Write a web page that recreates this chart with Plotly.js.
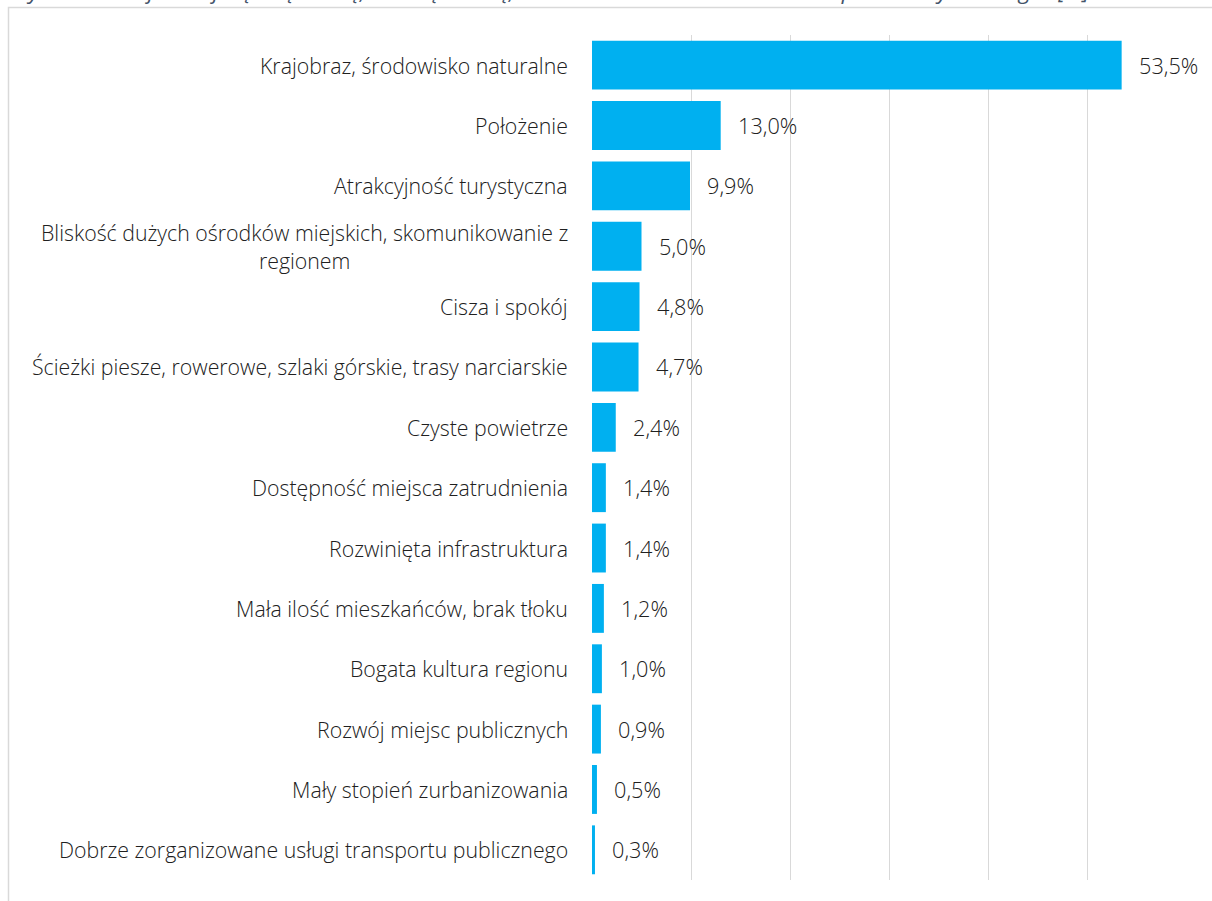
<!DOCTYPE html>
<html>
<head>
<meta charset="utf-8">
<script src="https://cdn.plot.ly/plotly-3.0.1.min.js"></script>
<style>html,body{margin:0;padding:0;background:#fff;}#chart{width:1212px;height:901px;}</style>
</head>
<body>
<div id="chart"></div>
<script>
const chartTitle = "Wykres 14 Co jest największą zaletą, mocną stroną, atutem zamieszkania na terenie powiatu żywieckiego? [%]";
const categories = [
  "Krajobraz, środowisko naturalne",
  "Położenie",
  "Atrakcyjność turystyczna",
  "Bliskość dużych ośrodków miejskich, skomunikowanie z<br>regionem",
  "Cisza i spokój",
  "Ścieżki piesze, rowerowe, szlaki górskie, trasy narciarskie",
  "Czyste powietrze",
  "Dostępność miejsca zatrudnienia",
  "Rozwinięta infrastruktura",
  "Mała ilość mieszkańców, brak tłoku",
  "Bogata kultura regionu",
  "Rozwój miejsc publicznych",
  "Mały stopień zurbanizowania",
  "Dobrze zorganizowane usługi transportu publicznego"
];
const values = [53.5, 13.0, 9.9, 5.0, 4.8, 4.7, 2.4, 1.4, 1.4, 1.2, 1.0, 0.9, 0.5, 0.3];
const valueLabels = values.map(v => v.toFixed(1).replace('.', ',') + '%');

const FONT = '"Open Sans", "DejaVu Sans", sans-serif';
const TXT = '#202020';

const trace = {
  type: 'bar',
  orientation: 'h',
  x: values,
  y: categories.map((c, i) => i),
  marker: {color: '#00B0F0'},
  width: 0.81,
  hoverinfo: 'skip'
};

const annotations = [];
categories.forEach((c, i) => {
  annotations.push({
    xref: 'paper', yref: 'y', x: 0, y: i,
    xanchor: 'right', yanchor: 'middle', xshift: -22,
    text: c, showarrow: false, align: 'center',
    font: {family: FONT, size: 21.3, color: TXT, weight: 300}
  });
  annotations.push({
    xref: 'x', yref: 'y', x: values[i], y: i,
    xanchor: 'left', yanchor: 'middle', xshift: 15,
    text: valueLabels[i], showarrow: false,
    font: {family: FONT, size: 21.7, color: TXT, weight: 300}
  });
});
annotations.push({
  xref: 'paper', yref: 'paper', x: (8 - 592) / 594, y: 1 + 44 / 845,
  xanchor: 'left', yanchor: 'middle',
  text: '<i>' + chartTitle + '</i>', showarrow: false,
  font: {family: FONT, size: 22.4, color: '#44546A'}
});

const layout = {
  width: 1212, height: 901,
  margin: {l: 592, r: 26, t: 35, b: 21, pad: 0},
  paper_bgcolor: '#ffffff', plot_bgcolor: '#ffffff',
  showlegend: false,
  xaxis: {
    range: [0, 60], dtick: 10, tick0: 0,
    showgrid: true, gridcolor: '#d9d9d9', gridwidth: 1,
    zeroline: false, showticklabels: false, ticks: '', showline: false,
    fixedrange: true
  },
  yaxis: {
    range: [13.5, -0.5],
    showgrid: false, zeroline: false, showticklabels: false, ticks: '', showline: false,
    fixedrange: true
  },
  shapes: [{
    type: 'rect', xref: 'paper', yref: 'paper',
    x0: (8.5 - 592) / 594, x1: 1.2,
    y0: -0.2, y1: 1 + (35 - 7.5) / 845,
    line: {color: '#d9d9d9', width: 1.5}, fillcolor: 'rgba(0,0,0,0)', layer: 'below'
  }],
  annotations: annotations
};

Plotly.newPlot('chart', [trace], layout, {displayModeBar: false, staticPlot: true});
</script>
</body>
</html>
